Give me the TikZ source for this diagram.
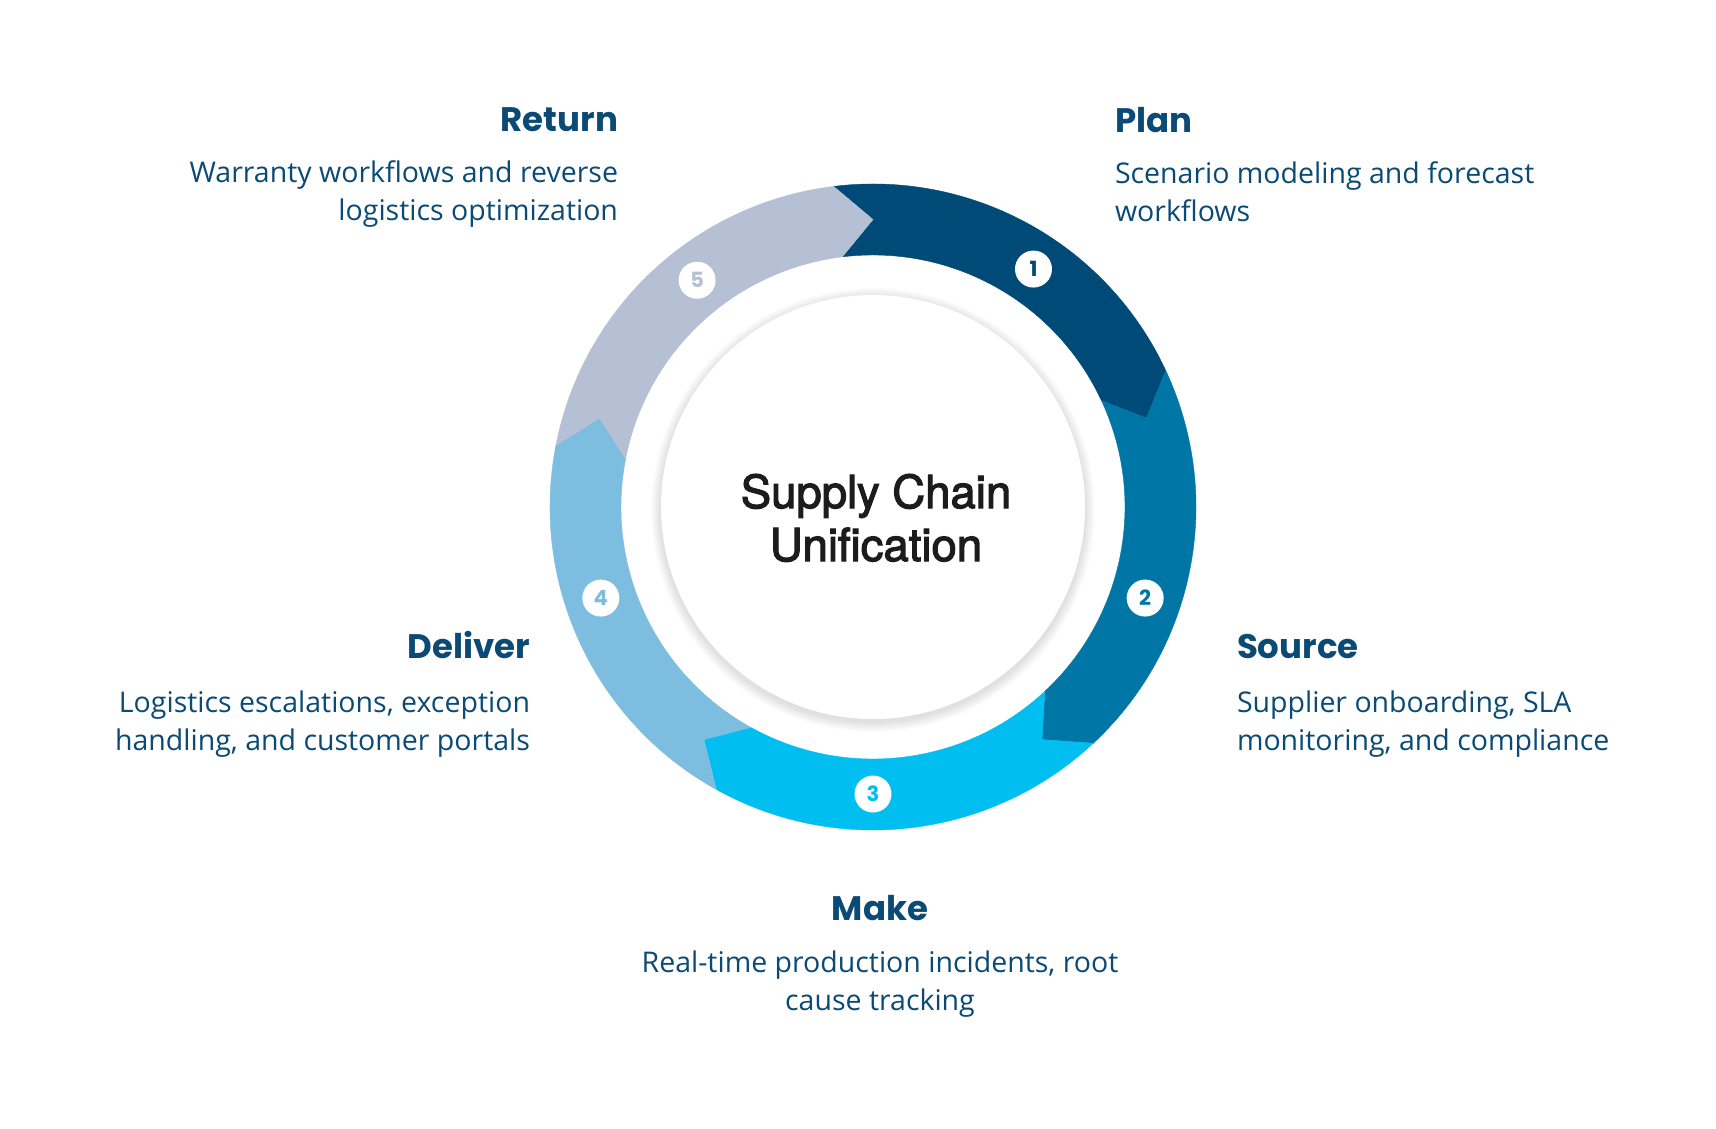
\documentclass[tikz,border=0pt]{standalone}
\usepackage{fontspec}
\usepackage{xcolor}
\usepackage{tikz}
\usetikzlibrary{calc}
\setmainfont{Open Sans}
\newfontfamily\headfont{Poppins}
\newfontfamily\hubfont{TeX Gyre Heros}[FakeBold=2.5]

\definecolor{planblue}{HTML}{004A77}
\definecolor{sourceblue}{HTML}{0076A6}
\definecolor{makeblue}{HTML}{00BFF0}
\definecolor{deliverblue}{HTML}{7CBDE0}
\definecolor{returnblue}{HTML}{B5C0D4}
\definecolor{inkblue}{HTML}{0A4A75}
\definecolor{hubink}{HTML}{1C1C1C}

\begin{document}
\begin{tikzpicture}[x=1pt,y=1pt]
  \tikzset{every node/.style={inner sep=0pt,outer sep=0pt}};
  \tikzset{head/.style={font=\headfont\bfseries\fontsize{34}{40}\selectfont,text=inkblue}};
  \tikzset{body/.style={font=\fontsize{28.5}{38}\selectfont,text=inkblue}};
  \tikzset{numdot/.style={circle,fill=white,minimum size=37pt,font=\headfont\bfseries\fontsize{21}{21}\selectfont}};
  \useasboundingbox (-873,-621) rectangle (843,507);
  % ring of five arrow segments, clockwise from the top
  \foreach \k/\col in {1/planblue,2/sourceblue,3/makeblue,4/deliverblue,5/returnblue} {
    \pgfmathsetmacro{\s}{97-72*(\k-1)}
    \pgfmathsetmacro{\e}{\s-72}
    \pgfmathsetmacro{\ts}{\s-7}
    \pgfmathsetmacro{\te}{\e-7}
    \path[fill=\col,draw=\col,line width=0.4pt] (\s:323) arc[start angle=\s,end angle=\e,radius=323] -- (\te:287.5) -- (\e:252) arc[start angle=\e,end angle=\s,radius=252] -- (\ts:287.5) -- cycle;
  }
  % soft shadow and hub
  \foreach \i in {1,...,10}
    \fill[black,opacity=0.01] (0,-3) circle[radius=212+\i];
  \node[circle,fill=white,minimum size=424pt] (hub) at (0,0) {};
  \node[font=\hubfont\fontsize{45.5}{53}\selectfont,text=hubink,align=center,anchor=base] (hubtext) at (3,-54) {Supply Chain\\Unification};
  % step numbers
  \foreach \k/\col/\n in {1/planblue/56,2/sourceblue/-18.5,3/makeblue/-90,4/deliverblue/-161.5,5/returnblue/127.8}
    \node[numdot,text=\col] (num\k) at (\n:287) {\k};
  % labels (multi-line nodes sit on their last baseline)
  \node[head,anchor=base west] (planhead) at (242,374) {Plan};
  \node[body,anchor=base west,align=left] (plantext) at (242,286) {Scenario modeling and forecast\\workflows};
  \node[head,anchor=base west] (sourcehead) at (364,-151) {Source};
  \node[body,anchor=base west,align=left] (sourcetext) at (364,-243) {Supplier onboarding, SLA\\monitoring, and compliance};
  \node[head,anchor=base] (makehead) at (7,-413) {Make};
  \node[body,anchor=base,align=center] (maketext) at (7,-503) {Real-time production incidents, root\\cause tracking};
  \node[head,anchor=base east] (deliverhead) at (-343,-151) {Deliver};
  \node[body,anchor=base east,align=right] (delivertext) at (-343,-243) {Logistics escalations, exception\\handling, and customer portals};
  \node[head,anchor=base east] (returnhead) at (-255,375) {Return};
  \node[body,anchor=base east,align=right] (returntext) at (-255,287) {Warranty workflows and reverse\\logistics optimization};
\end{tikzpicture}
\end{document}
